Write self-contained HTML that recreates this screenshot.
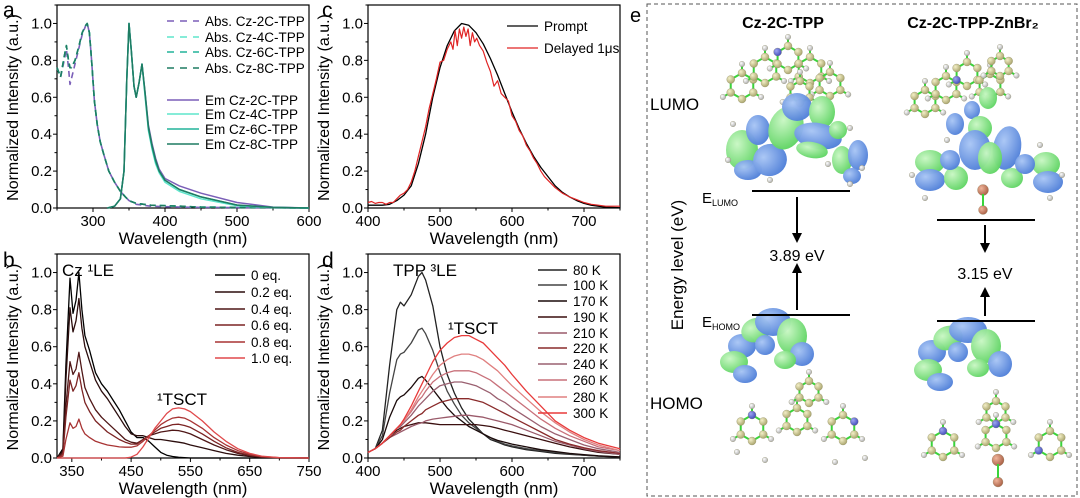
<!DOCTYPE html>
<html><head><meta charset="utf-8">
<style>
html,body{margin:0;padding:0;background:#fff;}
svg{display:block;font-family:"Liberation Sans",Arial,sans-serif;}
</style></head>
<body>
<svg id="fig" width="1080" height="498" viewBox="0 0 1080 498" xmlns="http://www.w3.org/2000/svg">
<defs>
<radialGradient id="gb" cx="35%" cy="35%" r="70%"><stop offset="0" stop-color="#a9c6f5"/><stop offset="1" stop-color="#4f7fd8"/></radialGradient>
<radialGradient id="gg" cx="35%" cy="35%" r="70%"><stop offset="0" stop-color="#c9f7c4"/><stop offset="1" stop-color="#5fd463"/></radialGradient>
<radialGradient id="ga" cx="35%" cy="35%" r="70%"><stop offset="0" stop-color="#f3efc7"/><stop offset="1" stop-color="#a7a26a"/></radialGradient>
<radialGradient id="gh" cx="35%" cy="35%" r="70%"><stop offset="0" stop-color="#ffffff"/><stop offset="1" stop-color="#a9a9a9"/></radialGradient>
<radialGradient id="gn" cx="35%" cy="35%" r="70%"><stop offset="0" stop-color="#9ea6f2"/><stop offset="1" stop-color="#3f4bb8"/></radialGradient>
<radialGradient id="gz" cx="35%" cy="35%" r="70%"><stop offset="0" stop-color="#f0b59b"/><stop offset="1" stop-color="#a85e44"/></radialGradient>
<marker id="arr" viewBox="0 0 10 10" refX="5" refY="5" markerWidth="5" markerHeight="5" orient="auto"><path d="M0,0 L10,5 L0,10 z" fill="#000"/></marker>
</defs>
<g id="plots"></g>
<g id="panel-e">
<rect x="647" y="4" width="430" height="492" fill="none" stroke="#555" stroke-width="1" stroke-dasharray="4,3"/>
<text x="630" y="22" font-size="20">e</text>
<g id="mols"></g>
<text x="783" y="28" font-size="16" font-weight="bold" text-anchor="middle">Cz-2C-TPP</text>
<text x="973" y="28" font-size="16" font-weight="bold" text-anchor="middle">Cz-2C-TPP-ZnBr₂</text>
<text x="650" y="110" font-size="17">LUMO</text>
<text x="650" y="409" font-size="17">HOMO</text>
<text transform="translate(683,265) rotate(-90)" font-size="17" text-anchor="middle">Energy level (eV)</text>
<text x="702" y="203" font-size="15">E<tspan font-size="9" dy="3">LUMO</tspan></text>
<text x="702" y="327" font-size="15">E<tspan font-size="9" dy="3">HOMO</tspan></text>
<line x1="752" y1="191" x2="850" y2="191" stroke="#000" stroke-width="2"/>
<line x1="752" y1="315" x2="850" y2="315" stroke="#000" stroke-width="2"/>
<line x1="937" y1="220" x2="1035" y2="220" stroke="#000" stroke-width="2"/>
<line x1="937" y1="321" x2="1035" y2="321" stroke="#000" stroke-width="2"/>
<line x1="797" y1="197" x2="797" y2="238" stroke="#000" stroke-width="2" marker-end="url(#arr)"/>
<line x1="797" y1="310" x2="797" y2="268" stroke="#000" stroke-width="2" marker-end="url(#arr)"/>
<line x1="985" y1="225" x2="985" y2="248" stroke="#000" stroke-width="2" marker-end="url(#arr)"/>
<line x1="985" y1="316" x2="985" y2="292" stroke="#000" stroke-width="2" marker-end="url(#arr)"/>
<text x="797" y="261" font-size="16" text-anchor="middle">3.89 eV</text>
<text x="985" y="279" font-size="16" text-anchor="middle">3.15 eV</text>
</g>
</svg>
<script>
var NS='http://www.w3.org/2000/svg';
var fig=document.getElementById('plots');
function el(tag,at,par){var e=document.createElementNS(NS,tag);for(var k in at)e.setAttribute(k,at[k]);(par||fig).appendChild(e);return e;}

/* ---------- data: panel a ---------- */
var aAbsX=[250,255,260,263,266,268,270,275,280,285,290,292,295,298,302,306,310,315,322,330,338,345,350,360,380,420,450,600];
var aAbs2C=[0.76,0.71,0.8,0.86,0.76,0.67,0.7,0.78,0.86,0.94,0.99,1.0,0.95,0.8,0.58,0.45,0.36,0.29,0.2,0.14,0.09,0.06,0.04,0.02,0.01,0.005,0.003,0];
var aAbs4C=[0.76,0.71,0.82,0.88,0.8,0.76,0.76,0.8,0.87,0.95,0.99,1.0,0.95,0.8,0.58,0.45,0.36,0.29,0.2,0.14,0.09,0.06,0.04,0.025,0.015,0.01,0.005,0];
var aAbs6C=[0.76,0.71,0.82,0.88,0.8,0.76,0.76,0.8,0.87,0.95,0.99,1.0,0.95,0.8,0.58,0.45,0.36,0.29,0.2,0.14,0.09,0.06,0.04,0.025,0.015,0.01,0.005,0];
var aAbs8C=[0.76,0.71,0.82,0.88,0.8,0.76,0.76,0.8,0.87,0.95,0.99,1.0,0.95,0.8,0.58,0.45,0.36,0.29,0.2,0.14,0.09,0.06,0.04,0.025,0.015,0.01,0.005,0];
var aEmX=[320,330,338,343,347,350,353,357,360,364,368,372,377,382,387,392,400,420,450,500,550,600];
var aEm2C=[0,0.01,0.05,0.2,0.7,1.0,0.86,0.66,0.6,0.68,0.78,0.64,0.45,0.35,0.27,0.21,0.16,0.12,0.08,0.03,0.005,0];
var aEm4C=[0,0.01,0.05,0.2,0.7,1.0,0.86,0.66,0.6,0.68,0.78,0.62,0.42,0.32,0.24,0.19,0.14,0.09,0.05,0.012,0.002,0];
var aEm6C=[0,0.01,0.05,0.2,0.7,1.0,0.86,0.66,0.6,0.68,0.78,0.63,0.43,0.33,0.25,0.2,0.15,0.1,0.06,0.015,0.003,0];
var aEm8C=[0,0.01,0.05,0.2,0.7,1.0,0.86,0.66,0.6,0.68,0.78,0.64,0.44,0.34,0.26,0.2,0.15,0.1,0.06,0.016,0.003,0];
var aXTicks=[300,400,500,600];
var yTicks=[0,0.2,0.4,0.6,0.8,1.0];

/* ---------- data: panel b ---------- */
var bX=[325,335,340,347,352,357,362,367,372,380,390,400,410,420,430,440,450,460,470,480,490,500,510,520,530,540,550,570,590,610,630,650,670,700,750];
var b0=[0,0.05,0.5,0.97,0.78,0.85,1.0,0.8,0.66,0.58,0.46,0.4,0.36,0.31,0.26,0.2,0.14,0.11,0.11,0.09,0.06,0.03,0.015,0.008,0.004,0.002,0,0,0,0,0,0,0,0,0];
var b02=[0,0.04,0.42,0.81,0.68,0.74,0.86,0.7,0.6,0.52,0.42,0.36,0.32,0.27,0.22,0.17,0.13,0.12,0.12,0.11,0.1,0.1,0.095,0.09,0.085,0.08,0.07,0.055,0.04,0.025,0.015,0.008,0.003,0,0];
var b04=[0,0.03,0.28,0.52,0.45,0.48,0.57,0.47,0.38,0.32,0.26,0.22,0.19,0.16,0.13,0.1,0.085,0.08,0.1,0.12,0.13,0.14,0.145,0.15,0.148,0.14,0.13,0.1,0.07,0.045,0.025,0.012,0.005,0.001,0];
var b06=[0,0.02,0.22,0.42,0.36,0.39,0.46,0.37,0.3,0.25,0.2,0.17,0.14,0.12,0.1,0.085,0.075,0.075,0.1,0.12,0.14,0.16,0.17,0.18,0.182,0.175,0.165,0.13,0.09,0.055,0.03,0.015,0.006,0.001,0];
var b08=[0,0.01,0.1,0.19,0.16,0.17,0.21,0.16,0.13,0.11,0.09,0.08,0.07,0.065,0.06,0.058,0.058,0.065,0.09,0.12,0.15,0.18,0.2,0.215,0.22,0.215,0.2,0.16,0.11,0.07,0.04,0.02,0.008,0.002,0];
var b10=[0,0,0,0,0,0,0,0,0,0,0,0,0,0,0,0,0.005,0.02,0.06,0.11,0.16,0.2,0.24,0.265,0.27,0.265,0.25,0.2,0.14,0.09,0.05,0.025,0.01,0.002,0];
var bXTicks=[350,450,550,650,750];

/* ---------- data: panel c ---------- */
var cX=[400,410,420,430,440,450,460,470,480,490,500,510,520,530,540,550,560,570,580,590,600,610,620,630,640,650,660,670,680,690,700,710,720,730,740,750];
var cPrompt=[0.015,0.015,0.015,0.02,0.04,0.07,0.12,0.24,0.4,0.6,0.76,0.88,0.96,1.0,0.99,0.95,0.89,0.81,0.72,0.62,0.52,0.43,0.35,0.28,0.22,0.17,0.12,0.085,0.06,0.04,0.025,0.015,0.01,0.005,0.003,0.001];
var cDX=[400,405,410,415,420,425,430,435,440,445,450,455,460,465,470,475,480,485,490,495,500,505,510,515,518,521,524,527,530,533,536,539,542,545,548,551,555,560,565,570,575,580,585,590,595,600,605,610,615,620,625,630,635,640,645,650,660,670,680,690,700,710,720,730,740,750];
var cDelayed=[0.03,0.035,0.025,0.03,0.03,0.02,0.03,0.03,0.05,0.07,0.08,0.1,0.14,0.2,0.28,0.36,0.44,0.54,0.62,0.7,0.79,0.8,0.86,0.9,0.86,0.96,0.88,0.97,0.92,0.98,0.93,0.97,0.88,0.95,0.9,0.92,0.88,0.85,0.79,0.74,0.66,0.69,0.62,0.6,0.58,0.5,0.47,0.42,0.39,0.34,0.31,0.27,0.24,0.2,0.17,0.15,0.11,0.08,0.06,0.045,0.03,0.02,0.015,0.01,0.01,0.01];
var cXTicks=[400,500,600,700];

/* ---------- data: panel d ---------- */
var dX=[400,410,420,430,440,445,450,460,470,475,480,490,500,510,520,530,540,550,560,570,580,590,600,620,640,660,680,700,720,750];
var d80=[0.03,0.05,0.15,0.5,0.8,0.84,0.82,0.88,0.98,1.0,0.96,0.82,0.6,0.45,0.35,0.27,0.21,0.17,0.13,0.1,0.085,0.07,0.06,0.045,0.035,0.025,0.02,0.015,0.01,0.005];
var d100=[0.03,0.05,0.12,0.35,0.53,0.56,0.57,0.62,0.69,0.7,0.67,0.58,0.46,0.36,0.29,0.23,0.19,0.16,0.13,0.11,0.09,0.075,0.065,0.05,0.04,0.03,0.022,0.015,0.01,0.005];
var d170=[0.03,0.05,0.1,0.22,0.31,0.33,0.34,0.38,0.43,0.44,0.42,0.37,0.32,0.27,0.23,0.2,0.17,0.15,0.13,0.11,0.095,0.085,0.075,0.06,0.045,0.035,0.025,0.018,0.012,0.006];
var d190=[0.03,0.05,0.08,0.12,0.15,0.16,0.17,0.18,0.19,0.19,0.19,0.185,0.18,0.18,0.18,0.18,0.18,0.18,0.175,0.17,0.16,0.15,0.14,0.12,0.1,0.08,0.06,0.045,0.03,0.02];
var d210=[0.03,0.05,0.08,0.11,0.13,0.14,0.15,0.17,0.185,0.19,0.2,0.21,0.215,0.22,0.225,0.23,0.23,0.225,0.22,0.21,0.2,0.19,0.18,0.15,0.12,0.09,0.07,0.05,0.035,0.02];
var d220=[0.03,0.05,0.08,0.11,0.14,0.15,0.17,0.2,0.23,0.24,0.26,0.28,0.3,0.31,0.32,0.32,0.32,0.31,0.3,0.28,0.26,0.24,0.22,0.18,0.14,0.1,0.075,0.055,0.04,0.025];
var d240=[0.03,0.05,0.08,0.12,0.16,0.17,0.19,0.23,0.28,0.3,0.32,0.36,0.39,0.4,0.41,0.41,0.4,0.39,0.37,0.35,0.32,0.3,0.27,0.22,0.17,0.13,0.1,0.07,0.05,0.03];
var d260=[0.03,0.05,0.08,0.12,0.16,0.18,0.2,0.25,0.31,0.33,0.36,0.41,0.44,0.46,0.47,0.47,0.47,0.46,0.44,0.42,0.39,0.36,0.33,0.27,0.21,0.16,0.12,0.09,0.06,0.04];
var d280=[0.03,0.05,0.08,0.12,0.16,0.18,0.2,0.26,0.33,0.36,0.39,0.45,0.5,0.53,0.55,0.56,0.56,0.55,0.53,0.5,0.47,0.43,0.39,0.32,0.25,0.19,0.14,0.1,0.07,0.04];
var d300=[0.03,0.05,0.08,0.12,0.16,0.18,0.21,0.28,0.36,0.4,0.44,0.52,0.58,0.62,0.65,0.66,0.66,0.64,0.62,0.58,0.54,0.5,0.45,0.36,0.28,0.2,0.15,0.11,0.08,0.05];
var dXTicks=[400,500,600,700];

/* ---------- drawing helpers ---------- */
function makePanel(o){
  var g=el('g',{});
  
  
  o.g=g;
  o.sx=function(v){return o.x0+(v-o.xmin)/(o.xmax-o.xmin)*(o.x1-o.x0);};
  o.sy=function(v){return o.y0-(v/1.1)*(o.y0-o.y1);};
  return o;
}
function drawAxes(p,xt,xminor){
  var box=el('rect',{x:p.x0,y:p.y1,width:p.x1-p.x0,height:p.y0-p.y1,fill:'none',stroke:'#000','stroke-width':1.2},p.g);
  
  
  xt.forEach(function(t){
    var x=p.sx(t);
    el('line',{x1:x,y1:p.y0,x2:x,y2:p.y0+4,stroke:'#000','stroke-width':1},p.g);
    var tx=el('text',{x:x,y:p.y0+18,'font-size':15,'text-anchor':'middle'},p.g);tx.textContent=t;
    
    
  });
  xminor.forEach(function(t){var x=p.sx(t);el('line',{x1:x,y1:p.y0,x2:x,y2:p.y0+2.5,stroke:'#000','stroke-width':1},p.g);});
  yTicks.forEach(function(t){
    var y=p.sy(t);
    el('line',{x1:p.x0-4,y1:y,x2:p.x0,y2:y,stroke:'#000','stroke-width':1},p.g);
    el('line',{x1:p.x0-2.5,y1:p.sy(t+0.1),x2:p.x0,y2:p.sy(t+0.1),stroke:'#000','stroke-width':1},p.g);
    var tx=el('text',{x:p.x0-5,y:y+5,'font-size':15,'text-anchor':'end'},p.g);tx.textContent=t.toFixed(1);
    
    
  });
  var xl=el('text',{x:(p.x0+p.x1)/2,y:p.y0+36,'font-size':17,'text-anchor':'middle'},p.g);xl.textContent='Wavelength (nm)';
  
  
  var yl=el('text',{transform:'translate('+(p.x0-39)+','+((p.y0+p.y1)/2+1)+') rotate(-90)','font-size':16,'text-anchor':'middle'},p.g);yl.textContent='Normalized Intensity (a.u.)';
  
  
  var lt=el('text',{x:p.lx,y:p.ly,'font-size':21},p.g);lt.textContent=p.letter;
  
  
}
function drawLine(p,xs,ys,color,w,dash,name){
  var d='';
  for(var i=0;i<xs.length;i++){d+=(i?'L':'M')+p.sx(xs[i]).toFixed(1)+','+p.sy(ys[i]).toFixed(1);}
  var path=el('path',{d:d,fill:'none',stroke:color,'stroke-width':w,'stroke-linejoin':'round'},p.g);
  if(dash)path.setAttribute('stroke-dasharray',dash);
  
  
}
function legendEntry(p,x1,x2,y,color,dash,label,w){
  var l=el('line',{x1:x1,y1:y-4,x2:x2,y2:y-4,stroke:color,'stroke-width':w||1.5},p.g);
  if(dash)l.setAttribute('stroke-dasharray',dash);
  var t=el('text',{x:x2+6,y:y+1,'font-size':13.5},p.g);t.textContent=label;
  
  
}
function note(p,x,y,txt){var t=el('text',{x:x,y:y,'font-size':17},p.g);t.textContent=txt;
  
  }

/* panel a */
var pa=makePanel({name:'panel-a-chart',x0:57,x1:309,y0:208,y1:5,xmin:250,xmax:600,lx:3,ly:17,letter:'a'});
drawAxes(pa,aXTicks,[250,350,450,550]);
var aCols=['#7b5fb8','#5ee6cc','#22b39a','#1f7c62'];
drawLine(pa,aAbsX,aAbs2C,aCols[0],1.6,'6,4','abs-cz-2c-line');
drawLine(pa,aAbsX,aAbs4C,aCols[1],1.6,'6,4','abs-cz-4c-line');
drawLine(pa,aAbsX,aAbs6C,aCols[2],1.6,'6,4','abs-cz-6c-line');
drawLine(pa,aAbsX,aAbs8C,aCols[3],1.6,'6,4','abs-cz-8c-line');
drawLine(pa,aEmX,aEm2C,aCols[0],1.5,null,'em-cz-2c-line');
drawLine(pa,aEmX,aEm4C,aCols[1],1.5,null,'em-cz-4c-line');
drawLine(pa,aEmX,aEm6C,aCols[2],1.5,null,'em-cz-6c-line');
drawLine(pa,aEmX,aEm8C,aCols[3],1.5,null,'em-cz-8c-line');
['Abs. Cz-2C-TPP','Abs. Cz-4C-TPP','Abs. Cz-6C-TPP','Abs. Cz-8C-TPP'].forEach(function(s,i){legendEntry(pa,167,199,[25,41,56,72][i],aCols[i],'7,6',s);});
['Em Cz-2C-TPP','Em Cz-4C-TPP','Em Cz-6C-TPP','Em Cz-8C-TPP'].forEach(function(s,i){legendEntry(pa,167,199,[104,118,133,148][i],aCols[i],null,s);});

/* panel b */
var pb=makePanel({name:'panel-b-chart',x0:57,x1:309,y0:458,y1:254,xmin:325,xmax:750,lx:3,ly:267,letter:'b'});
drawAxes(pb,bXTicks,[400,500,600,700]);
var bCols=['#000000','#2b0d0d','#4f1717','#7c2424','#a83434','#e0494b'];
var bSer=[b0,b02,b04,b06,b08,b10];
var bLab=['0 eq.','0.2 eq.','0.4 eq.','0.6 eq.','0.8 eq.','1.0 eq.'];
bSer.forEach(function(s,i){drawLine(pb,bX,s,bCols[i],1.3,null,'series-'+bLab[i].replace(' eq.','eq').replace('.','-'));});
bLab.forEach(function(s,i){legendEntry(pb,215,245,[279,296,313,329,346,362][i],bCols[i],null,s);});
note(pb,62,276,'Cz ¹LE');
note(pb,157,405,'¹TSCT');

/* panel c */
var pc=makePanel({name:'panel-c-chart',x0:368,x1:620,y0:208,y1:5,xmin:400,xmax:750,lx:322,ly:17,letter:'c'});
drawAxes(pc,cXTicks,[450,550,650,750]);
drawLine(pc,cX,cPrompt,'#000',1.3,null,'prompt-line');
drawLine(pc,cDX,cDelayed,'#e02424',1.2,null,'delayed-line');
legendEntry(pc,507,538,30,'#000',null,'Prompt',1.3);
legendEntry(pc,507,538,52,'#e02424',null,'Delayed 1μs',1.3);

/* panel d */
var pd=makePanel({name:'panel-d-chart',x0:368,x1:620,y0:458,y1:254,xmin:400,xmax:750,lx:322,ly:267,letter:'d'});
drawAxes(pd,dXTicks,[450,550,650,750]);
var dCols=['#222222','#444444','#1a0a0a','#3a0f0f','#9a5a6a','#8a2b2b','#9a6070','#c8707a','#e08080','#e83a3a'];
var dSer=[d80,d100,d170,d190,d210,d220,d240,d260,d280,d300];
var dLab=['80 K','100 K','170 K','190 K','210 K','220 K','240 K','260 K','280 K','300 K'];
dSer.forEach(function(s,i){drawLine(pd,dX,s,dCols[i],1.3,null,'series-'+dLab[i].replace(' ','').toLowerCase());});
dLab.forEach(function(s,i){legendEntry(pd,538,567,[274,289,305,321,337,352,368,384,401,417][i],dCols[i],null,s);});
note(pd,393,276,'TPP ³LE');
note(pd,448,334,'¹TSCT');

/* panel e molecules (illustrative) */
var mols=document.getElementById('mols');
function blob(cx,cy,rx,ry,rot,c){var e=el('ellipse',{cx:cx,cy:cy,rx:rx,ry:ry,transform:'rotate('+rot+' '+cx+' '+cy+')',fill:'url(#'+c+')',opacity:0.97},mols);return e;}
function atom(cx,cy,r,c){el('circle',{cx:cx,cy:cy,r:r,fill:'url(#'+c+')',stroke:'#8a8660','stroke-width':0.3},mols);}
function bond(x1,y1,x2,y2){el('line',{x1:x1,y1:y1,x2:x2,y2:y2,stroke:'#3ad43a','stroke-width':2},mols);}
function ring(cx,cy,r,n){var pts=[];for(var i=0;i<6;i++){var a=Math.PI/3*i+Math.PI/6;pts.push([cx+r*Math.cos(a),cy+r*Math.sin(a)]);}
  for(var i=0;i<6;i++){bond(pts[i][0],pts[i][1],pts[(i+1)%6][0],pts[(i+1)%6][1]);}
  for(var i=0;i<6;i++){var hx=cx+(r+9)*Math.cos(Math.PI/3*i+Math.PI/6),hy=cy+(r+9)*Math.sin(Math.PI/3*i+Math.PI/6);if(i%2==0){bond(pts[i][0],pts[i][1],hx,hy);atom(hx,hy,2.8,'gh');}}
  for(var i=0;i<6;i++){atom(pts[i][0],pts[i][1],4,(n!==undefined&&i==n)?'gn':'ga');}}
ring(742,86,13);ring(765,70,13);ring(788,58,12,3);ring(810,70,13);ring(830,84,12);ring(800,92,11);
[[742,150,16,20,0,'gg'],[748,170,14,10,0,'gb'],[758,130,12,15,0,'gb'],[770,160,17,16,-20,'gb'],[786,128,17,22,20,'gg'],[797,107,15,14,0,'gb'],[822,112,13,16,0,'gg'],[818,136,24,13,10,'gb'],[812,150,16,8,10,'gg'],[842,160,10,14,0,'gg'],[858,155,10,15,0,'gb'],[852,176,9,8,0,'gb'],[838,130,9,9,0,'gg']].forEach(function(b){blob.apply(null,b);});
[[728,160],[770,180],[862,168],[733,124],[828,164],[850,128],[850,184]].forEach(function(a){atom(a[0],a[1],2.8,'gh');});
ring(925,102,12);ring(946,88,12);ring(967,74,12,2);ring(990,86,12);ring(1000,66,10);
[[955,124,9,11,0,'gb'],[972,110,8,9,0,'gb'],[988,98,9,11,0,'gg'],[980,128,12,12,0,'gg'],[975,150,16,20,0,'gb'],[1007,148,14,22,10,'gb'],[990,158,12,16,0,'gg'],[930,162,15,12,0,'gg'],[930,180,15,11,0,'gb'],[956,178,12,12,0,'gg'],[950,160,10,10,0,'gb'],[1046,164,14,12,0,'gg'],[1048,182,15,11,0,'gb'],[1012,178,11,10,0,'gg'],[1025,164,10,10,0,'gb']].forEach(function(b){blob.apply(null,b);});
atom(983,190,5.5,'gz');atom(983,210,4.5,'gz');bond(983,194,983,206);
[[912,175],[925,198],[1062,175],[1050,198],[947,140],[1040,145]].forEach(function(a){atom(a[0],a[1],2.8,'gh');});
ring(752,428,13,4);ring(797,420,12);ring(843,428,13,5);ring(809,392,11);
[[737,452],[765,460],[865,458],[835,462]].forEach(function(a){atom(a[0],a[1],2.8,'gh');});
[[742,346,14,12,0,'gb'],[756,330,15,12,-20,'gg'],[773,322,18,14,0,'gb'],[792,336,15,18,0,'gg'],[802,354,12,12,0,'gb'],[734,362,14,11,0,'gg'],[745,374,12,9,0,'gb'],[785,360,11,9,0,'gg'],[765,345,10,10,0,'gb']].forEach(function(b){blob.apply(null,b);});
ring(996,412,11);ring(943,444,13,4);ring(996,436,12,4);ring(1050,444,13,2);
atom(998,460,6,'gz');atom(998,482,5,'gz');bond(998,464,998,478);
[[932,352,14,12,0,'gb'],[948,338,15,12,-20,'gg'],[968,330,19,13,0,'gb'],[986,346,15,17,0,'gg'],[1000,364,12,13,0,'gb'],[928,370,14,11,0,'gg'],[940,382,13,9,0,'gb'],[978,368,11,9,0,'gg'],[958,352,10,10,0,'gb']].forEach(function(b){blob.apply(null,b);});
</script>
</body></html>
